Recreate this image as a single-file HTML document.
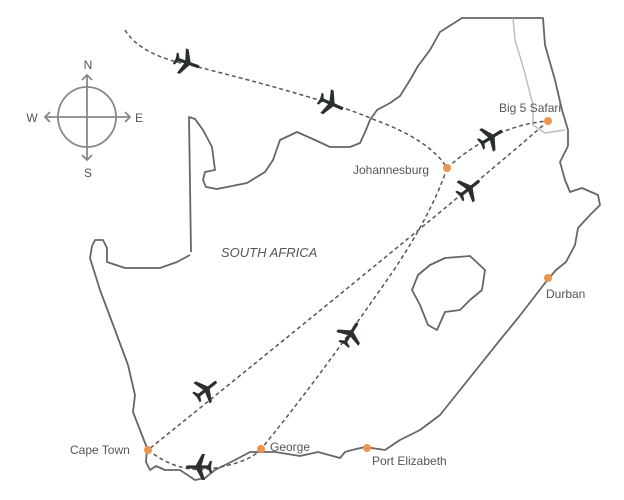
<!DOCTYPE html>
<html><head><meta charset="utf-8"><style>
html,body{margin:0;padding:0;background:#fff;}
svg{display:block}
text{font-family:"Liberation Sans",sans-serif;fill:#555;}
</style></head><body>
<svg width="624" height="500" viewBox="0 0 624 500">
<defs>
<g id="pl" fill="#2b2f30">
<rect x="-13" y="-1.6" width="25" height="3.2" rx="1.6"/>
<polygon points="3,0 -4,-13 -7,-13 -3,0 -7,13 -4,13"/>
<polygon points="-9,0 -12,-6 -14,-6 -13,0 -14,6 -12,6"/>
</g>
</defs>
<g fill="none" stroke="#666" stroke-width="1.8" stroke-linejoin="round">
<path d="M191,252 L189,117 L195,119 L203,130 L212,147 L215,170 L205,172 L203,180 L206,187 L217,189 L247,183 L265,172 L273,160 L280,140 L297,132 L315,140 L330,147 L350,147 L360,143 L366,130 L370,120 L377,110 L390,103 L400,96 L410,80 L418,66 L430,50 L440,32 L462,18 L543,18 L545,45 L555,80 L562,110 L568,130 L568,146 L560,162 L565,180 L570,192 L582,188 L598,195 L600,205 L590,215 L578,228 L575,245 L566,262 L556,270 L545,283 L535,296 L518,318 L500,340 L480,365 L460,390 L440,415 L420,430 L400,440 L385,450 L365,447 L352,450 L345,452 L340,458 L318,452 L300,456 L275,452 L250,452 L235,460 L215,470 L205,478 L195,480 L180,470 L165,470 L156,466 L150,470 L146,462 L147,448 L140,430 L133,412 L135,395 L128,365 L115,330 L100,290 L90,258 L92,246"/>
<path d="M92,246 L95,240 L103,240 L107,248 L107,262 L125,268 L160,268 L177,262 L190,255"/>
<path d="M430,265 L445,258 L470,256 L485,270 L482,290 L470,300 L460,310 L445,312 L437,330 L428,325 L420,305 L412,290 L418,275 Z"/>
</g>
<path d="M513,18 L515,40 L524,70 L533,105 L533,125 L545,133 L565,130" fill="none" stroke="#bbb" stroke-width="1.4"/>
<g fill="none" stroke="#555" stroke-width="1.5" stroke-dasharray="4,3">
<path d="M125,30 Q140,55 190,65 Q330,100 375,120 Q430,140 447,168"/>
<path d="M447,168 Q495,125 548,121"/>
<path d="M548,121 Q470,190 148,450"/>
<path d="M447,168 Q430,220 380,290 Q310,390 261,449"/>
<path d="M148,450 Q180,475 215,468 Q250,462 261,449"/>
</g>
<use href="#pl" transform="translate(188,63) rotate(20)"/>
<use href="#pl" transform="translate(332,104) rotate(24)"/>
<use href="#pl" transform="translate(492,137) rotate(-32)"/>
<use href="#pl" transform="translate(470,188) rotate(-38)"/>
<use href="#pl" transform="translate(207,389) rotate(-38)"/>
<use href="#pl" transform="translate(351,333) rotate(-58)"/>
<use href="#pl" transform="translate(198,467) rotate(180)"/>
<g fill="#f0934c">
<circle cx="447" cy="168" r="4"/><circle cx="548" cy="121" r="4"/>
<circle cx="148" cy="450" r="4"/><circle cx="261" cy="449" r="4"/>
<circle cx="367" cy="448" r="4"/><circle cx="548" cy="278" r="4"/>
</g>
<text x="353" y="174" font-size="12">Johannesburg</text>
<text x="499" y="112" font-size="12">Big 5 Safari</text>
<text x="70" y="454" font-size="12">Cape Town</text>
<text x="270" y="451" font-size="12">George</text>
<text x="372" y="465" font-size="12">Port Elizabeth</text>
<text x="546" y="298" font-size="12">Durban</text>
<text x="221" y="257" font-size="13" font-style="italic">SOUTH AFRICA</text>
<g stroke="#888" stroke-width="1.8" fill="none">
<ellipse cx="87" cy="117" rx="29" ry="30"/>
<path d="M87,75 L87,160 M45,117 L130,117"/>
<path d="M82,80 L87,75 L92,80 M82,155 L87,160 L92,155 M50,112 L45,117 L50,122 M125,112 L130,117 L125,122"/>
</g>
<g font-size="12" text-anchor="middle" style="fill:#777">
<text x="88" y="69">N</text><text x="88" y="177">S</text>
<text x="32" y="122">W</text><text x="139" y="122">E</text>
</g>
</svg>
</body></html>
